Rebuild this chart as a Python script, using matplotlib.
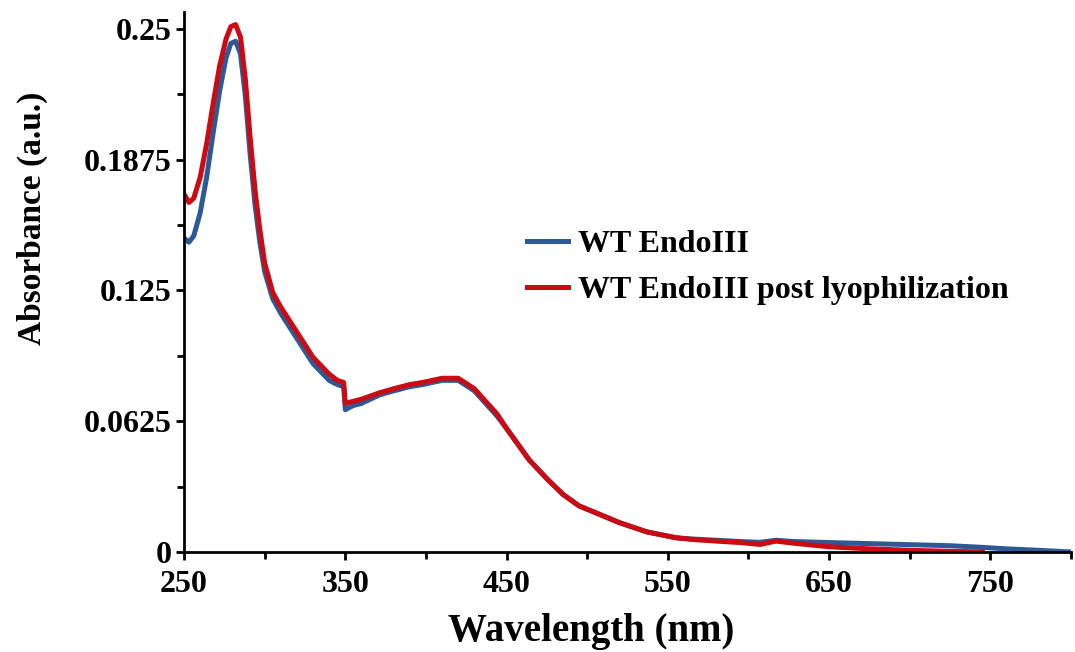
import numpy as np
import matplotlib.pyplot as plt
from matplotlib.ticker import MultipleLocator

# Wavelength (nm) and absorbance
wavelength = [250, 253, 256, 260, 264, 268, 272, 276, 279, 282, 285, 288, 291,
              294, 297, 300, 305, 310, 315, 320, 325, 330, 335, 340, 345, 349,
              350, 355, 360, 371, 380, 390, 398, 410, 420, 430, 444, 450, 464,
              475, 485, 495, 506, 520, 537, 555, 565, 580, 595, 607, 617, 628,
              650, 675, 700, 725, 745, 760, 780, 800]

wt_endo = [0.150, 0.148, 0.151, 0.162, 0.179, 0.200, 0.220, 0.236, 0.243, 0.244,
           0.238, 0.218, 0.190, 0.166, 0.148, 0.134, 0.121, 0.114, 0.108, 0.102,
           0.096, 0.090, 0.086, 0.082, 0.080, 0.079, 0.068, 0.070, 0.071, 0.075,
           0.077, 0.079, 0.080, 0.082, 0.082, 0.077, 0.065, 0.059, 0.044, 0.035,
           0.0275, 0.022, 0.0185, 0.014, 0.0096, 0.0068, 0.0062, 0.0056, 0.005,
           0.0046, 0.0056, 0.005, 0.0045, 0.004, 0.0035, 0.003, 0.0022, 0.0015,
           0.0008, 0.0]

wt_lyo = [0.171, 0.167, 0.169, 0.179, 0.195, 0.214, 0.232, 0.245, 0.251, 0.252,
          0.246, 0.226, 0.198, 0.173, 0.154, 0.138, 0.124, 0.117, 0.111, 0.105,
          0.099, 0.093, 0.089, 0.085, 0.082, 0.081, 0.071, 0.072, 0.073, 0.076,
          0.078, 0.080, 0.081, 0.083, 0.083, 0.078, 0.066, 0.059, 0.044, 0.035,
          0.0275, 0.022, 0.0185, 0.014, 0.0096, 0.0068, 0.006, 0.0052, 0.0045,
          0.0036, 0.0052, 0.0042, 0.0025, 0.0015, 0.0008, 0.0003, 0.0, np.nan,
          np.nan, np.nan]

xticks = [250, 350, 450, 550, 650, 750]
yticks = [0, 0.0625, 0.125, 0.1875, 0.25]
ytick_labels = ['0', '0.0625', '0.125', '0.1875', '0.25']

plt.rcParams['font.family'] = ['Liberation Serif', 'DejaVu Serif']
plt.rcParams['font.weight'] = 'bold'

fig = plt.figure(figsize=(10.75, 6.52), dpi=100)
ax = fig.add_axes([0.1712, 0.1534, 0.8251, 0.8282])

ax.plot(wavelength, wt_endo, color='#2B5A96', lw=3.6, label='WT EndoIII')
ax.plot(wavelength, wt_lyo, color='#CC0A14', lw=3.6, label='WT EndoIII post lyophilization')

ax.set_xlim(250, 800)
ax.set_ylim(0, 0.258)
ax.set_xticks(xticks)
ax.xaxis.set_minor_locator(MultipleLocator(50))
ax.set_yticks(yticks)
ax.set_yticklabels(ytick_labels)
ax.yaxis.set_minor_locator(MultipleLocator(0.03125))

for side in ['top', 'right']:
    ax.spines[side].set_visible(False)
for side in ['left', 'bottom']:
    ax.spines[side].set_linewidth(2)

ax.tick_params(which='both', direction='out', width=2, labelsize=23)
ax.tick_params(axis='x', which='major', length=6, pad=7)
ax.tick_params(axis='y', which='major', length=6, pad=3)
ax.tick_params(which='minor', length=5)

ax.set_xlabel('Wavelength (nm)', fontsize=28, fontweight='bold')
ax.set_ylabel('Absorbance (a.u.)', fontsize=24, fontweight='bold')
ax.xaxis.set_label_coords(0.459, -0.113)
ax.yaxis.set_label_coords(-0.153, 0.617)

ax.legend(loc='center left', bbox_to_anchor=(0.387, 0.527), frameon=False,
          fontsize=23, handlelength=1.28, handletextpad=0.3, labelspacing=0.5,
          borderpad=0, borderaxespad=0)

fig.savefig('out.png', dpi=100)
